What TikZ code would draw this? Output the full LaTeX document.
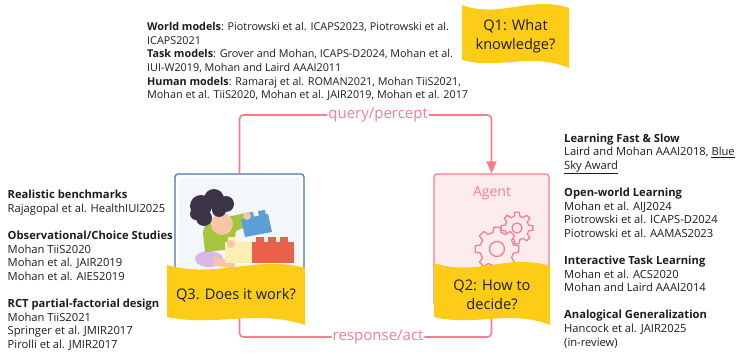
\documentclass[tikz,border=0pt]{standalone}
\usepackage{fontspec}
\setmainfont{Open Sans}
\usetikzlibrary{arrows.meta,calc}

\definecolor{loopred}{RGB}{255,122,138}
\definecolor{agentbg}{RGB}{253,236,238}
\definecolor{agentink}{RGB}{246,128,142}
\definecolor{flagyellow}{RGB}{252,204,22}
\definecolor{kidblue}{RGB}{76,116,164}
\definecolor{kidbg}{RGB}{243,246,251}
\definecolor{inkdark}{RGB}{28,28,28}
\definecolor{hairc}{RGB}{60,51,71}
\definecolor{skinc}{RGB}{247,198,166}
\definecolor{shirtc}{RGB}{165,197,62}
\definecolor{pantsc}{RGB}{218,183,229}
\definecolor{blockblue}{RGB}{90,160,214}
\definecolor{blockyellow}{RGB}{252,239,178}
\definecolor{blockred}{RGB}{234,96,72}

% wavy yellow flag: x0, x1, top, bottom
\newcommand{\wavebanner}[4]{%
  \fill[flagyellow] (#1,#3)
    .. controls ({#1+0.35*(#2-#1)},{#3+14}) and ({#1+0.65*(#2-#1)},{#3-10}) .. (#2,{#3+3})
    -- (#2,{#4+8})
    .. controls ({#1+0.65*(#2-#1)},{#4-8}) and ({#1+0.35*(#2-#1)},{#4+10}) .. (#1,#4)
    -- cycle;}

% gear outline, 8 teeth: centre, inner radius, outer radius, hole radius
\newcommand{\gearwheel}[4]{%
  \filldraw[gear] ($(#1)+(-14:#2)$)
    \foreach \a in {0,45,...,315}{
      -- ($(#1)+(\a-14:#2)$) -- ($(#1)+(\a-8:#3)$) -- ($(#1)+(\a+8:#3)$) -- ($(#1)+(\a+14:#2)$)
      arc[start angle=\a+14, end angle=\a+31, radius=#2]} -- cycle;
  \draw[gear] (#1) circle (#4);}

\begin{document}
\begin{tikzpicture}[x=1pt,y=-1pt,
  loopline/.style={draw=loopred,line width=1.6pt,rounded corners=4pt},
  looplabel/.style={fill=white,text=agentink,inner sep=1pt,font=\fontsize{15}{17}\selectfont},
  refs/.style={align=left,inner sep=0pt,text=inkdark,font=\fontsize{11.2}{13.6}\selectfont},
  question/.style={align=center,inner sep=0pt,text=inkdark,font=\fontsize{14.6}{18.5}\selectfont},
  gear/.style={draw=agentink,fill=agentbg,line width=1.3pt,line join=round}]
  \useasboundingbox (0,0) rectangle (739,355);

  % the two boxes
  \node[draw=kidblue,fill=white,line width=1.2pt,rounded corners=3pt,
        minimum width=129pt,minimum height=128pt] (kid) at (239.5,238) {};
  \node[draw=loopred,fill=agentbg,line width=1.2pt,rounded corners=3pt,
        minimum width=115pt,minimum height=132pt] (agent) at (491.5,240) {};
  \fill[kidbg,rounded corners=3pt] (179,178) rectangle (300,300);

  % loop between them
  \draw[loopline,-{Triangle[length=12pt,width=10pt]}] (kid.north) -- (kid.north |- 0,115)
    -- node[looplabel,pos=0.55] (percept) {query/percept} (agent.north |- 0,115) -- (agent.north);
  \draw[loopline] (agent.south) -- (agent.south |- 0,337)
    -- node[looplabel,pos=0.45] (act) {response/act} (kid.south |- 0,337) -- (kid.south);

  % child with blocks
  \fill[pantsc] (209,259) ellipse (14 and 8);
  \fill[skinc] (213,256) -- (232,261) .. controls (237,263) and (236,268) .. (231,268) -- (215,266) -- cycle;
  \fill[shirtc] (203,234) .. controls (203,222) and (214,215) .. (232,216) -- (245,213)
    -- (248,226) -- (236,231) -- (233,249) -- (205,252) -- cycle;
  \fill[skinc] (222,224) circle (11);
  \fill[hairc] (201,206) circle (11) (214,199) circle (10) (226,204) circle (8)
    (204,218) circle (8) (196,214) circle (6) (219,210) circle (7);
  \fill[blockblue] (241,219) -- (268,214) -- (272,232) -- (245,237) -- cycle;
  \fill[blockblue] (247,219) -- (246,213) -- (253,212) -- (254,218) -- cycle;
  \fill[blockblue] (259,217) -- (258,211) -- (265,210) -- (266,216) -- cycle;
  \fill[skinc] (247,216) circle (4);
  \fill[blockyellow] (225,242) rectangle (252,263);
  \fill[blockyellow] (228,237.5) rectangle (236,242);
  \fill[skinc] (231,244) circle (4);
  \fill[blockred] (252,242) rectangle (294,263);
  \foreach \sx in {256,268,280}
    \fill[blockred] (\sx,237.5) rectangle ++(8,4.5);

  % gears
  \node[text=agentink,font=\fontsize{14}{16}\selectfont,inner sep=0pt] (agentlbl) at (492,193) {Agent};
  \gearwheel{517,228}{12}{16}{5}
  \gearwheel{497,249}{17}{22}{7.5}

  % question flags
  \wavebanner{462}{569}{5}{60}
  \wavebanner{167}{305}{265}{317}
  \wavebanner{434}{550}{263}{317}
  \node[question] (q1) at (515.5,36) {Q1: What\\ knowledge?};
  \node[question] (q2) at (492,295) {Q2: How to\\ decide?};
  \node[question] (q3) at (236,295) {Q3. Does it work?};

  % references (anchored on the baseline of their last line)
  \node[refs,anchor=base west,font=\fontsize{10.8}{13.6}\selectfont] (knowrefs) at (147,98.7) {%
    \textbf{World models}: Piotrowski et al. ICAPS2023, Piotrowski et al.\\
    ICAPS2021\\
    \textbf{Task models}: Grover and Mohan, ICAPS-D2024, Mohan et al.\\
    IUI-W2019, Mohan and Laird AAAI2011\\
    \textbf{Human models}: Ramaraj et al. ROMAN2021, Mohan TiiS2021,\\
    Mohan et al. TiiS2020, Mohan et al. JAIR2019, Mohan et al. 2017};
  \node[refs,anchor=base west] (evalrefs) at (7.5,348.5) {%
    \textbf{Realistic benchmarks}\\
    Rajagopal et al. HealthIUI2025\\[13.6pt]
    \textbf{Observational/Choice Studies}\\
    Mohan TiiS2020\\
    Mohan et al. JAIR2019\\
    Mohan et al. AIES2019\\[13.6pt]
    \textbf{RCT partial-factorial design}\\
    Mohan TiiS2021\\
    Springer et al. JMIR2017\\
    Pirolli et al. JMIR2017};
  \node[refs,anchor=base west] (learnrefs) at (564,346) {%
    \textbf{Learning Fast \& Slow}\\
    Laird and Mohan AAAI2018, \underline{Blue}\\
    \underline{Sky Award}\\[13.6pt]
    \textbf{Open-world Learning}\\
    Mohan et al. AIJ2024\\
    Piotrowski et al. ICAPS-D2024\\
    Piotrowski et al. AAMAS2023\\[13.6pt]
    \textbf{Interactive Task Learning}\\
    Mohan et al. ACS2020\\
    Mohan and Laird AAAI2014\\[13.6pt]
    \textbf{Analogical Generalization}\\
    Hancock et al. JAIR2025\\
    (in-review)};
\end{tikzpicture}
\end{document}
